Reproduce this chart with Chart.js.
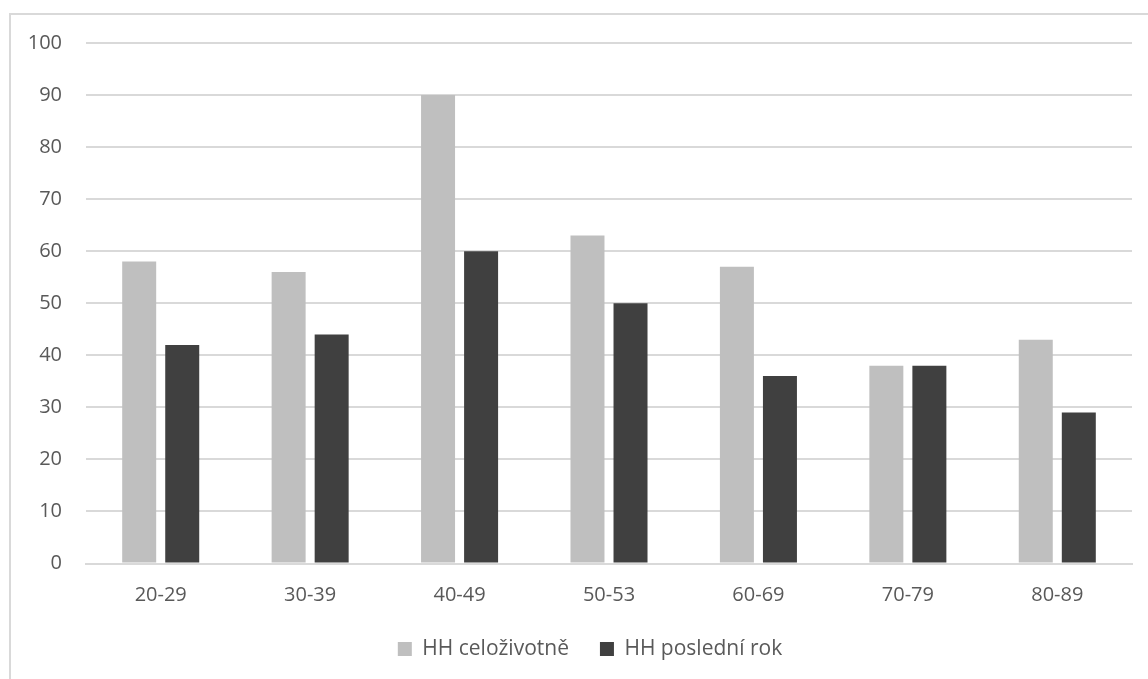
<!DOCTYPE html>
<html>
<head>
<meta charset="utf-8">
<script src="https://cdn.jsdelivr.net/npm/chart.js@4/dist/chart.umd.min.js"></script>
<style>
    html, body { margin: 0; padding: 0; background: #fff; overflow: hidden; }
    .frame {
        position: absolute; left: 9px; top: 13px; width: 1200px; height: 700px;
        border: 2px solid #d9d9d9; box-sizing: border-box;
    }
    .chart-box { position: absolute; left: 0; top: 0; width: 1148px; height: 679px; }
</style>
</head>
<body>
<div class="frame"></div>
<div class="chart-box"><canvas id="chart"></canvas></div>
<script>
// === data ===
const categories = ['20-29', '30-39', '40-49', '50-53', '60-69', '70-79', '80-89'];
const lifetime = [58, 56, 90, 63, 57, 38, 43];
const lastYear = [42, 44, 60, 50, 36, 38, 29];
const seriesNames = ['HH celoživotně', 'HH poslední rok'];
const yTicks = [0, 10, 20, 30, 40, 50, 60, 70, 80, 90, 100];

const textColor = '#595959';
const fontFamily = "'Open Sans', sans-serif";

new Chart(document.getElementById('chart'), {
    type: 'bar',
    data: {
        labels: categories,
        datasets: [
            { label: seriesNames[0], data: lifetime, backgroundColor: '#bfbfbf' },
            { label: seriesNames[1], data: lastYear, backgroundColor: '#404040' },
        ]
    },
    options: {
        responsive: true,
        maintainAspectRatio: false,
        animation: false,
        categoryPercentage: 0.576,
        barPercentage: 0.79,
        layout: { padding: { left: 48, right: 16, top: 43, bottom: 9.5 } },
        plugins: {
            tooltip: { enabled: false },
            legend: {
                position: 'bottom',
                labels: {
                    color: textColor,
                    font: { family: fontFamily, size: 21 },
                    boxWidth: 14,
                    boxHeight: 14,
                    padding: 31,
                }
            }
        },
        scales: {
            x: {
                afterFit: function(scale) { scale.height = 44; },
                grid: { display: false, drawTicks: false },
                border: { color: '#d9d9d9', width: 2 },
                ticks: {
                    color: textColor,
                    font: { family: fontFamily, size: 20 },
                    padding: 20,
                    maxRotation: 0,
                }
            },
            y: {
                min: 0,
                max: 100,
                afterFit: function(scale) {
                    scale.width = 38;
                    // labels hang left of the axis box, don't clip them
                    scale._computeLabelArea = () => null;
                },
                afterBuildTicks: function(scale) {
                    scale.ticks = yTicks.map(v => ({ value: v }));
                },
                grid: { color: '#d9d9d9', lineWidth: 2, drawTicks: false },
                border: { display: false },
                ticks: {
                    color: textColor,
                    font: { family: fontFamily, size: 20 },
                    padding: 24,
                }
            }
        }
    }
});
</script>
</body>
</html>
